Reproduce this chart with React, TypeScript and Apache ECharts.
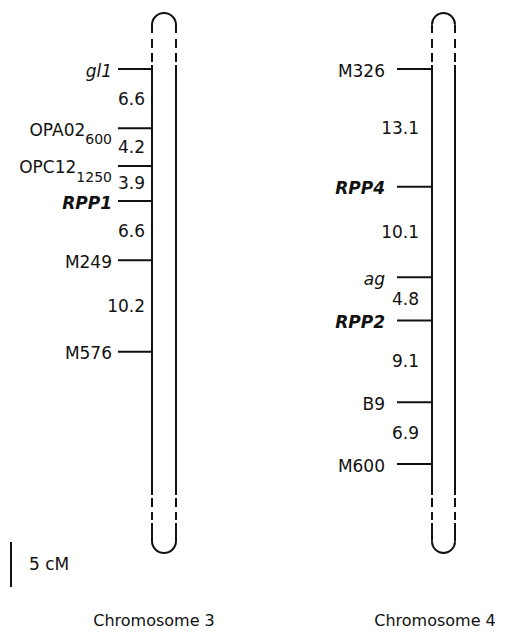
import React, { useEffect, useRef } from "react";
import * as echarts from "echarts";

// ---- data ----
const chr3Markers = ["gl1", "OPA02", "OPC12", "RPP1", "M249", "M576"];
const chr3Subscripts = ["", "600", "1250", "", "", ""];
const chr3Intervals = [6.6, 4.2, 3.9, 6.6, 10.2];

const chr4Markers = ["M326", "RPP4", "ag", "RPP2", "B9", "M600"];
const chr4Subscripts = ["", "", "", "", "", ""];
const chr4Intervals = [13.1, 10.1, 4.8, 9.1, 6.9];

const chromosomeLabels = ["Chromosome 3", "Chromosome 4"];
const scaleBarCM = 5;
const scaleBarLabel = "5 cM";

// ---- layout / style ----
const W = 509;
const H = 637;
const PX_PER_CM = 8.98;
const FIRST_Y = 69;
const Y_MIN = -FIRST_Y / PX_PER_CM;
const Y_MAX = (H - FIRST_Y) / PX_PER_CM;
const CHR_TOP_CM = (13 - FIRST_Y) / PX_PER_CM;
const CHR_BOTTOM_CM = (553 - FIRST_Y) / PX_PER_CM;
const SCALE_START_CM = (542 - FIRST_Y) / PX_PER_CM;
const INK = "#111";
const FONT = "DejaVu Sans";
const MAIN_SIZE = 17;
const SUB_SIZE = 14;

const CHR_LAYOUT = [
  { left: 152, right: 176, tickLen: 34, nameX: 112, intX: 145, labelX: 154 },
  { left: 432, right: 455, tickLen: 35, nameX: 385, intX: 419, labelX: 435 },
];

const allMarkers = [chr3Markers, chr4Markers];
const allSubs = [chr3Subscripts, chr4Subscripts];
const allIntervals = [chr3Intervals, chr4Intervals];

function positions(intervals: number[]): number[] {
  const out = [0];
  intervals.forEach((v) => out.push(Math.round((out[out.length - 1] + v) * 100) / 100));
  return out;
}

function markerFont(name: string) {
  if (name.startsWith("RPP")) return { fontStyle: "italic", fontWeight: "bold" };
  if (/[a-z]/.test(name[0])) return { fontStyle: "italic", fontWeight: "normal" };
  return { fontStyle: "normal", fontWeight: "normal" };
}

let measureCtx: CanvasRenderingContext2D | null = null;
function textWidth(text: string, size: number): number {
  if (!measureCtx) measureCtx = document.createElement("canvas").getContext("2d");
  if (!measureCtx) return text.length * size * 0.6;
  measureCtx.font = `${size}px "${FONT}"`;
  return measureCtx.measureText(text).width;
}

export default function App() {
  const ref = useRef<HTMLDivElement>(null);

  useEffect(() => {
    if (!ref.current) return;
    const chart = echarts.init(ref.current, undefined, { renderer: "svg" });

    const markerData: number[][] = [];
    const intervalData: number[][] = [];
    allMarkers.forEach((markers, ci) => {
      const pos = positions(allIntervals[ci]);
      markers.forEach((_, mi) => markerData.push([ci, pos[mi], mi]));
      allIntervals[ci].forEach((v, ii) =>
        intervalData.push([ci, (pos[ii] + pos[ii + 1]) / 2, v])
      );
    });

    const lineStyle = { stroke: INK, lineWidth: 2, fill: "none" };

    const option: any = {
      animation: false,
      grid: { left: 0, right: 0, top: 0, bottom: 0, containLabel: false },
      xAxis: { type: "value", min: 0, max: W, show: false },
      yAxis: { type: "value", min: Y_MIN, max: Y_MAX, inverse: true, show: false },
      series: [
        {
          type: "custom",
          data: [[0, 0], [1, 0]],
          renderItem: (params: any, api: any) => {
            const ci = api.value(0);
            const L = CHR_LAYOUT[ci];
            const top = api.coord([0, CHR_TOP_CM])[1];
            const bot = api.coord([0, CHR_BOTTOM_CM])[1];
            const r = (L.right - L.left) / 2;
            const cx = (L.left + L.right) / 2;
            const segs = [
              [top + r, top + 20],
              [top + 26, top + 35],
              [top + 40, top + 49],
              [top + 52, bot - 58],
              [bot - 55, bot - 46],
              [bot - 41, bot - 33],
              [bot - 30, bot - r],
            ];
            const children: any[] = [
              {
                type: "arc",
                shape: { cx, cy: top + r, r, startAngle: Math.PI, endAngle: Math.PI * 2, clockwise: true },
                style: lineStyle,
              },
              {
                type: "arc",
                shape: { cx, cy: bot - r, r, startAngle: 0, endAngle: Math.PI, clockwise: true },
                style: lineStyle,
              },
            ];
            segs.forEach(([a, b]) => {
              [L.left, L.right].forEach((x) =>
                children.push({ type: "line", shape: { x1: x, y1: a, x2: x, y2: b }, style: lineStyle })
              );
            });
            children.push({
              type: "text",
              style: {
                text: chromosomeLabels[ci],
                x: L.labelX,
                y: 620,
                align: "center",
                verticalAlign: "middle",
                fontFamily: FONT,
                fontSize: 16,
                fill: INK,
              },
            });
            return { type: "group", children };
          },
        },
        {
          type: "custom",
          data: markerData,
          renderItem: (params: any, api: any) => {
            const ci = api.value(0);
            const pos = api.value(1);
            const mi = api.value(2);
            const L = CHR_LAYOUT[ci];
            const y = api.coord([0, pos])[1];
            const name = allMarkers[ci][mi];
            const sub = allSubs[ci][mi];
            const f = markerFont(name);
            const children: any[] = [
              {
                type: "line",
                shape: { x1: L.left - L.tickLen, y1: y, x2: L.left, y2: y },
                style: lineStyle,
              },
            ];
            let mainX = L.nameX;
            if (sub) {
              children.push({
                type: "text",
                style: {
                  text: sub,
                  x: L.nameX,
                  y: y + 11,
                  align: "right",
                  verticalAlign: "middle",
                  fontFamily: FONT,
                  fontSize: SUB_SIZE,
                  fill: INK,
                },
              });
              mainX = L.nameX - textWidth(sub, SUB_SIZE);
            }
            children.push({
              type: "text",
              style: {
                text: name,
                x: mainX,
                y: y + 1.5,
                align: "right",
                verticalAlign: "middle",
                fontFamily: FONT,
                fontSize: MAIN_SIZE,
                fontStyle: f.fontStyle,
                fontWeight: f.fontWeight,
                fill: INK,
              },
            });
            return { type: "group", children };
          },
        },
        {
          type: "custom",
          data: intervalData,
          renderItem: (params: any, api: any) => {
            const ci = api.value(0);
            const mid = api.value(1);
            const v = api.value(2);
            const L = CHR_LAYOUT[ci];
            const y = api.coord([0, mid])[1];
            return {
              type: "text",
              style: {
                text: v.toFixed(1),
                x: L.intX,
                y,
                align: "right",
                verticalAlign: "middle",
                fontFamily: FONT,
                fontSize: MAIN_SIZE,
                fill: INK,
              },
            };
          },
        },
        {
          type: "custom",
          data: [[11, SCALE_START_CM, scaleBarCM]],
          renderItem: (params: any, api: any) => {
            const x = api.value(0);
            const s = api.value(1);
            const len = api.value(2);
            const y1 = api.coord([0, s])[1];
            const y2 = api.coord([0, s + len])[1];
            return {
              type: "group",
              children: [
                { type: "line", shape: { x1: x, y1, x2: x, y2 }, style: lineStyle },
                {
                  type: "text",
                  style: {
                    text: scaleBarLabel,
                    x: x + 18,
                    y: (y1 + y2) / 2,
                    align: "left",
                    verticalAlign: "middle",
                    fontFamily: FONT,
                    fontSize: MAIN_SIZE,
                    fill: INK,
                  },
                },
              ],
            };
          },
        },
      ],
    };

    chart.setOption(option);
    return () => chart.dispose();
  }, []);

  return (
    <div
      ref={ref}
      style={{ position: "absolute", left: 0, top: 0, width: W, height: H, background: "#fff" }}
    />
  );
}
